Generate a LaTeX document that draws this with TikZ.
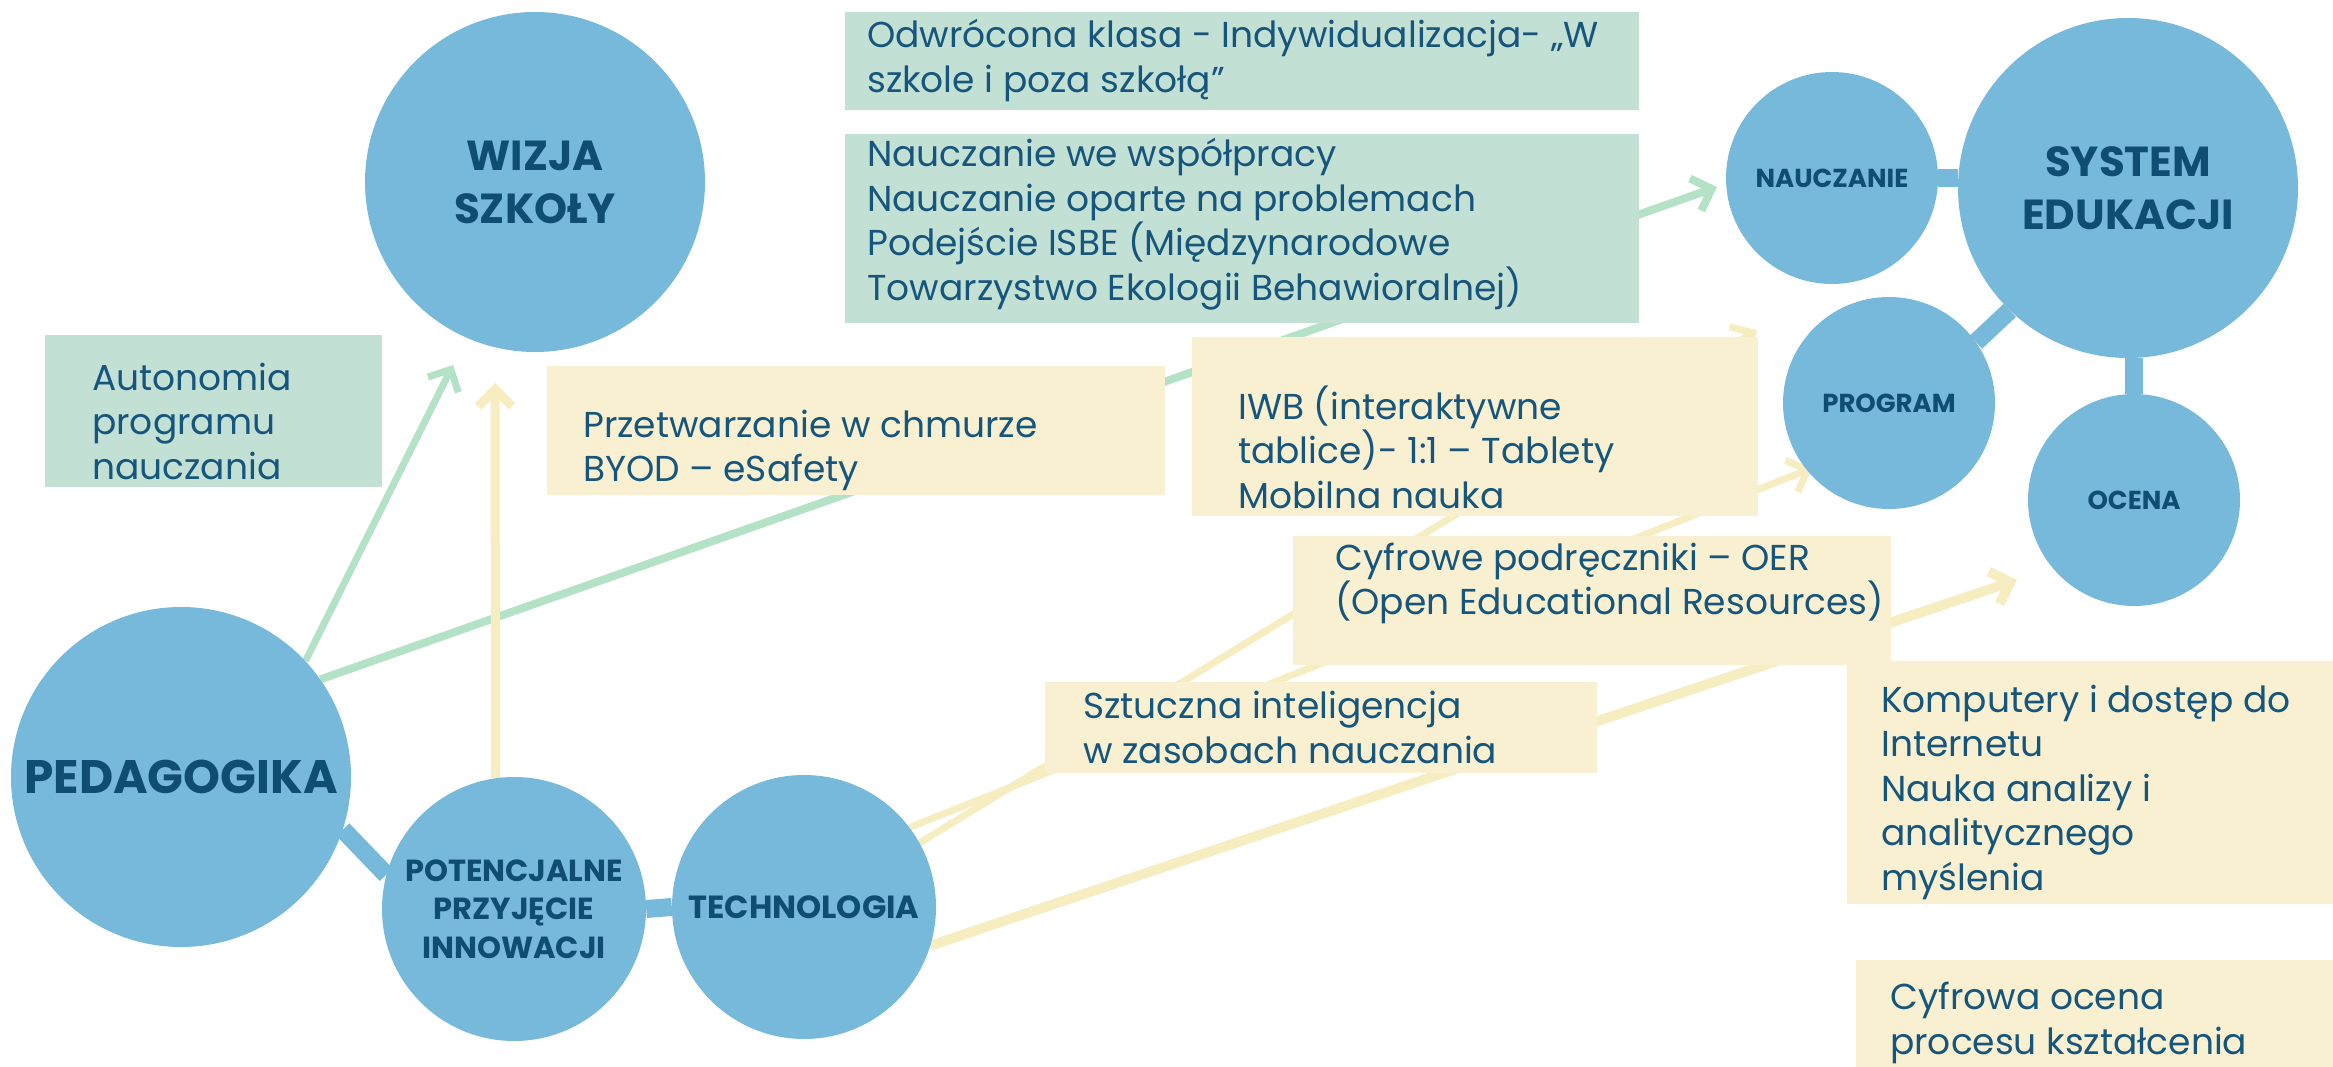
\documentclass[tikz,border=0pt]{standalone}
\usepackage{fontspec}
\setmainfont{Poppins}
\usetikzlibrary{arrows.meta}
\pgfdeclarelayer{bg}
\pgfsetlayers{bg,main}
\definecolor{cblue}{HTML}{77B9DA}
\definecolor{labc}{HTML}{0F4D72}
\definecolor{txtc}{HTML}{17567C}
\definecolor{boxg}{HTML}{C3E0D4}
\definecolor{boxy}{HTML}{F9F0D2}
\definecolor{lineg}{HTML}{B3E2C7}
\definecolor{liney}{HTML}{F6EDC1}
\tikzset{
  bub/.style={circle, fill=cblue, inner sep=0pt, align=center, text=labc},
  bigl/.style={font=\bfseries\fontsize{42}{53}\selectfont},
  midl/.style={font=\bfseries\fontsize{30.5}{38.5}\selectfont},
  smll/.style={font=\bfseries\fontsize{26}{30}\selectfont},
  gbox/.style={rectangle, fill=boxg, inner sep=0pt, anchor=north west},
  ybox/.style={rectangle, fill=boxy, inner sep=0pt, anchor=north west},
  txt/.style={anchor=west, align=left, inner sep=0pt, text=txtc, font=\fontsize{36}{44.5}\selectfont},
  glink/.style={draw=lineg, line width=7pt, -{Straight Barb[length=17pt,width=34pt]}},
  ylink/.style={draw=liney, line width=7pt, -{Straight Barb[length=17pt,width=34pt]}},
  blink/.style={draw=cblue, line width=18pt},
}
\begin{document}
\begin{tikzpicture}[x=1pt,y=-1pt]
\useasboundingbox (0,0) rectangle (2333,1067);
% circles
\node[bub, bigl, minimum size=340pt] (wiz) at (535,182) {WIZJA\\SZKOŁY};
\node[bub, font=\bfseries\fontsize{47}{53}\selectfont, minimum size=340pt] (ped) at (181,777) {PEDAGOGIKA};
\node[bub, midl, minimum size=264pt] (pot) at (514,909) {POTENCJALNE\\PRZYJĘCIE\\INNOWACJI};
\node[bub, midl, font=\bfseries\fontsize{32}{38.5}\selectfont, minimum size=264pt] (tech) at (804,907) {TECHNOLOGIA};
\node[bub, bigl, minimum size=340pt] (sys) at (2128,188) {SYSTEM\\EDUKACJI};
\node[bub, smll, minimum size=212pt] (nau) at (1832,178) {NAUCZANIE};
\node[bub, smll, minimum size=212pt] (prog) at (1889,403) {PROGRAM};
\node[bub, smll, minimum size=212pt] (oce) at (2134,500) {OCENA};
% boxes
\node[gbox, minimum width=794pt, minimum height=98pt] (bOdw) at (845,12) {};
\node[gbox, minimum width=794pt, minimum height=189pt] (bNau) at (845,134) {};
\node[gbox, minimum width=337pt, minimum height=152pt] (bAut) at (45,335) {};
\node[ybox, minimum width=618pt, minimum height=129pt] (bPrz) at (547,366) {};
\node[ybox, minimum width=566pt, minimum height=179pt] (bIwb) at (1192,337) {};
\node[ybox, minimum width=598pt, minimum height=129pt] (bCyf) at (1293,536) {};
\node[ybox, minimum width=552pt, minimum height=91pt] (bSzt) at (1045,682) {};
\node[ybox, minimum width=486pt, minimum height=243pt] (bKom) at (1847,661) {};
\node[ybox, minimum width=477pt, minimum height=107pt] (bOce) at (1856,960) {};
% texts
\node[txt] (tOdw) at (867,60.5) {Odwrócona klasa - Indywidualizacja- „W\\szkole i poza szkołą''};
\node[txt] (tNau) at (867,224) {Nauczanie we współpracy\\Nauczanie oparte na problemach\\Podejście ISBE (Międzynarodowe\\Towarzystwo Ekologii Behawioralnej)};
\node[txt] (tAut) at (92,421) {Autonomia\\programu\\nauczania};
\node[txt] (tPrz) at (583,450.5) {Przetwarzanie w chmurze\\BYOD – eSafety};
\node[txt] (tIwb) at (1238,447) {IWB (interaktywne\\tablice)- 1:1 – Tablety\\Mobilna nauka};
\node[txt] (tCyf) at (1335,583.5) {Cyfrowe podręczniki – OER\\(Open Educational Resources)};
\node[txt] (tSzt) at (1083,727.5) {Sztuczna inteligencja\\w zasobach nauczania};
\node[txt] (tKom) at (1881,792) {Komputery i dostęp do\\Internetu\\Nauka analizy i\\analitycznego\\myślenia};
\node[txt] (tOce) at (1890,1023) {Cyfrowa ocena\\procesu kształcenia};
% connectors
\begin{pgfonlayer}{bg}
\draw[blink] (ped.-18) -- (pot.165);
\draw[blink] (pot.east) -- (tech.west);
\draw[blink] (nau.east) -- (nau.east -| sys.west);
\draw[blink] (prog.35) -- (sys.226);
\draw[blink] (oce.north) -- (oce.north |- sys.south);
\coordinate (tW1) at (453,365);
\coordinate (tN) at (1717,187);
\coordinate (tW2) at (495,383);
\coordinate (tP) at (1812,468);
\coordinate (tX) at (1757,330);
\coordinate (tO) at (2017,580);
\draw[glink] (ped.43) -- (tW1);
\draw[glink, line width=8pt] (ped.35) -- (tN);
\draw[ylink, line width=9pt] (pot.98.5) -- (tW2);
\draw[ylink] (tech.37) -- (tP);
\draw[ylink] (tech.29) -- (tX);
\draw[ylink, line width=10pt] (tech.-17) -- (tO);
\end{pgfonlayer}
\end{tikzpicture}
\end{document}
